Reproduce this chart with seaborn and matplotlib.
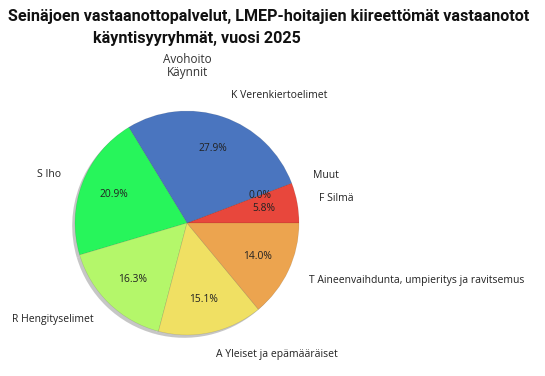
import matplotlib
matplotlib.use("Agg")
import matplotlib.pyplot as plt
import matplotlib.patches as mpatches
import seaborn as sns

sns.set_theme(style="white")
plt.rcParams['font.family'] = ['Open Sans', 'DejaVu Sans']

title_line1 = "Seinäjoen vastaanottopalvelut, LMEP-hoitajien kiireettömät vastaanotot"
title_line2 = "käyntisyyryhmät, vuosi 2025"
subtitle = "Avohoito\nKäynnit"

categories = ["F Silmä", "Muut", "K Verenkiertoelimet", "S Iho", "R Hengityselimet",
              "A Yleiset ja epämääräiset", "T Aineenvaihdunta, umpieritys ja ravitsemus"]
values = [5.8, 0.0, 27.9, 20.9, 16.3, 15.1, 14.0]
colors = ["#E8473C", "#9E9E9E", "#4A75BF", "#27F55B", "#B4F76A", "#F0E063", "#ECA44F"]

W, H = 545, 376
fig = plt.figure(figsize=(W / 100, H / 100), dpi=100)

cx, cy, r = 187, 223, 112
lim = 1.5
size = r * lim * 2
ax = fig.add_axes([(cx - size / 2) / W, (H - cy - size / 2) / H, size / W, size / H])

wedges, texts, autotexts = ax.pie(
    values, labels=categories, colors=colors, startangle=0, counterclock=True,
    autopct='%1.1f%%', pctdistance=0.7, labeldistance=1.2,
    shadow=dict(ox=-0.018, oy=-0.018, shade=0.5),
    textprops=dict(fontsize=7.5, color="#222222"),
    wedgeprops=dict(linewidth=0.4, edgecolor="#00000022"),
)
for t in autotexts:
    t.set_fontsize(7.4)
    t.set_color("#222222")
for p in ax.patches:
    if isinstance(p, mpatches.Shadow):
        p.set_facecolor("#8f8f8f")
        p.set_edgecolor("none")
ax.set_xlim(-lim, lim)
ax.set_ylim(-lim, lim)
ax.set_aspect("equal")
ax.axis("off")

tfont = ['Roboto', 'DejaVu Sans']
t1 = fig.text(8 / W, 1 - 21 / H, title_line1, fontsize=11.5, fontweight="bold",
              ha="left", va="baseline", color="#111111", family=tfont)
fig.canvas.draw()
w1 = t1.get_window_extent().width
fs = 11.5 * 520 / w1
t1.set_fontsize(fs)
fig.text(93 / W, 1 - 43 / H, title_line2, fontsize=fs, fontweight="bold",
         ha="left", va="baseline", color="#111111", family=tfont)
fig.text(cx / W, 1 - 66 / H, subtitle, fontsize=8.5, ha="center", va="center",
         color="#333333", linespacing=1.05)

fig.savefig("out.png", dpi=100, facecolor="white")
